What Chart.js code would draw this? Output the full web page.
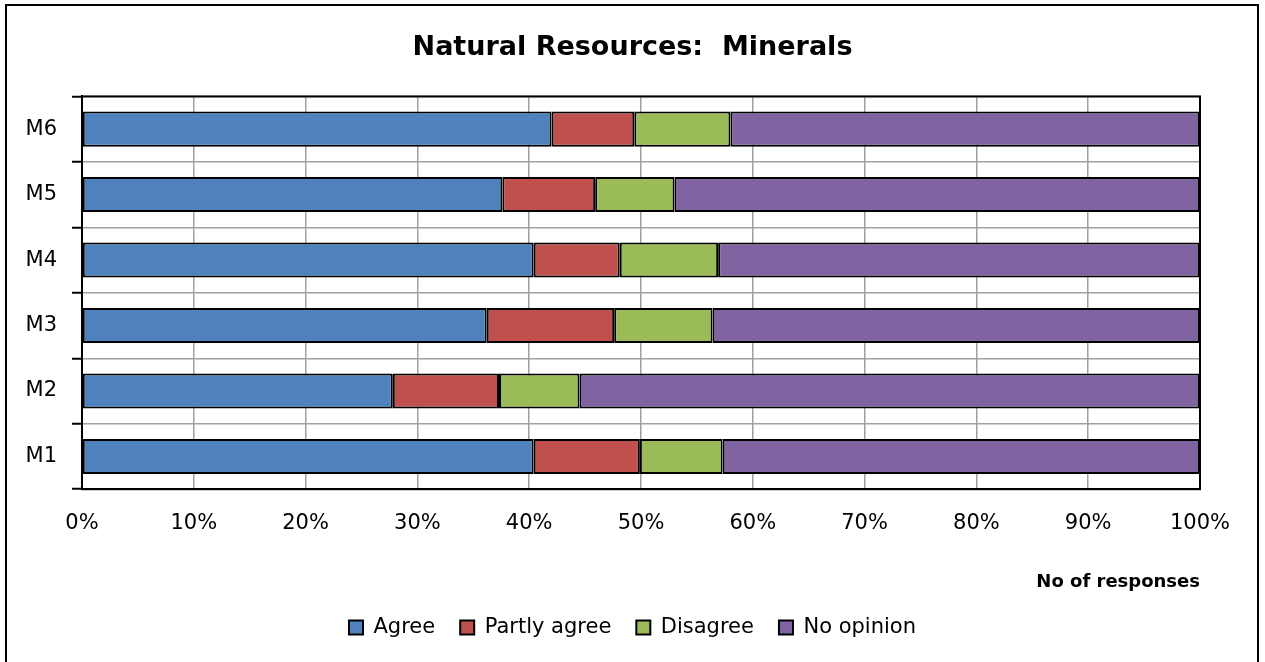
<!DOCTYPE html>
<html>
<head>
<meta charset="utf-8">
<script src="https://cdn.jsdelivr.net/npm/chart.js@4"></script>
<style>
  html, body { margin: 0; padding: 0; background: #fff; }
  #wrap { width: 1265px; height: 662px; position: relative; }
</style>
</head>
<body>
<div id="wrap"><canvas id="mineralsChart"></canvas></div>
<script>
// 카테고리 (위에서 아래 순서)
const categories = ['M6', 'M5', 'M4', 'M3', 'M2', 'M1'];

// 응답 비율 (%)
const agree       = [42.0, 37.6, 40.4, 36.2, 27.8, 40.4];
const partlyAgree = [ 7.4,  8.3,  7.7, 11.4,  9.5,  9.5];
const disagree    = [ 8.6,  7.1,  8.8,  8.8,  7.2,  7.4];
const noOpinion   = [42.0, 47.0, 43.1, 43.6, 55.5, 42.7];

const xTicks = [0, 10, 20, 30, 40, 50, 60, 70, 80, 90, 100];

const FONT = "'DejaVu Sans', sans-serif";

// 바깥 테두리 + 플롯 영역 테두리
const framePlugin = {
    id: 'frame',
    beforeDraw(chart) {
        const ctx = chart.ctx;
        ctx.save();
        ctx.fillStyle = '#fff';
        ctx.fillRect(0, 0, chart.width, chart.height);
        ctx.strokeStyle = '#000';
        ctx.lineWidth = 2;
        ctx.strokeRect(6, 5, 1252, 700);
        ctx.restore();
    },
    afterDatasetsDraw(chart) {
        const a = chart.chartArea;
        const ctx = chart.ctx;
        ctx.save();
        ctx.strokeStyle = '#000';
        ctx.lineWidth = 2;
        ctx.strokeRect(a.left, a.top, a.right - a.left, a.bottom - a.top);
        ctx.restore();
    }
};

function makeSet(label, data, color) {
    return {
        label: label,
        data: data,
        backgroundColor: color,
        borderColor: '#000',
        borderWidth: 2,
        borderSkipped: false,
        barPercentage: 0.535,
        categoryPercentage: 1.0
    };
}

const ctx = document.getElementById('mineralsChart').getContext('2d');
new Chart(ctx, {
    type: 'bar',
    data: {
        labels: categories,
        datasets: [
            makeSet('Agree', agree, '#4F81BD'),
            makeSet('Partly agree', partlyAgree, '#C0504D'),
            makeSet('Disagree', disagree, '#9BBB59'),
            makeSet('No opinion', noOpinion, '#8064A2')
        ]
    },
    plugins: [framePlugin],
    options: {
        indexAxis: 'y',
        responsive: true,
        maintainAspectRatio: false,
        animation: false,
        layout: { padding: { left: 0, right: 0, top: 0, bottom: 14 } },
        plugins: {
            title: {
                display: true,
                text: 'Natural Resources:  Minerals',
                color: '#000',
                font: { family: FONT, size: 27, weight: 'bold' },
                padding: { top: 32, bottom: 32 }
            },
            legend: {
                display: true,
                position: 'bottom',
                labels: {
                    color: '#000',
                    font: { family: FONT, size: 21 },
                    boxWidth: 14,
                    boxHeight: 14,
                    padding: 25
                }
            },
            tooltip: { enabled: false }
        },
        scales: {
            x: {
                stacked: true,
                min: 0,
                max: 100,
                afterBuildTicks(axis) {
                    axis.ticks = xTicks.map(v => ({ value: v }));
                },
                ticks: {
                    color: '#000',
                    font: { family: FONT, size: 21 },
                    padding: 22,
                    callback: v => v + '%'
                },
                grid: {
                    color: '#a0a0a0',
                    lineWidth: 1.5,
                    drawTicks: false
                },
                border: { color: '#000', width: 2 },
                title: {
                    display: true,
                    text: 'No of responses',
                    align: 'end',
                    color: '#000',
                    font: { family: FONT, size: 18, weight: 'bold' },
                    padding: { top: 13, bottom: -1 }
                }
            },
            y: {
                stacked: true,
                afterFit(axis) { axis.width = 82; },
                ticks: {
                    color: '#000',
                    font: { family: FONT, size: 21 },
                    padding: 15
                },
                grid: {
                    color: '#a0a0a0',
                    lineWidth: 1.5,
                    tickColor: '#000',
                    tickWidth: 2,
                    tickLength: 10,
                    offset: true
                },
                border: { color: '#000', width: 2 }
            },
            // 오른쪽 여백용 빈 축 (제목/범례가 가운데 오도록)
            yRight: {
                position: 'right',
                afterFit(axis) { axis.width = 65; },
                ticks: { display: false },
                grid: { display: false },
                border: { display: false }
            }
        }
    }
});
</script>
</body>
</html>
